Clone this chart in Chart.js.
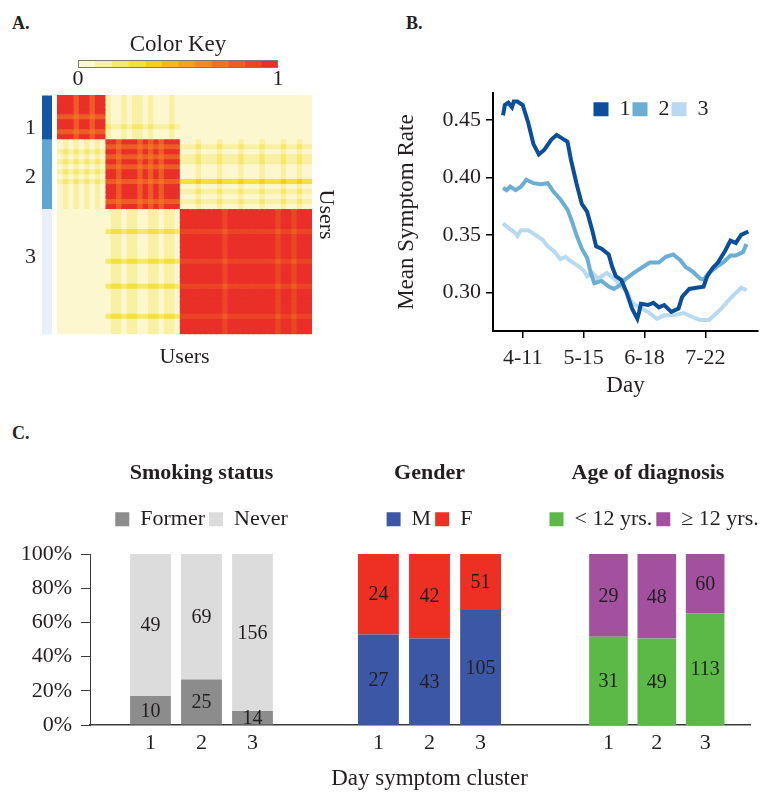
<!DOCTYPE html>
<html>
<head>
<meta charset="utf-8">
<title>Day symptom clusters</title>
<script src="https://cdn.jsdelivr.net/npm/chart.js@4.4.1/dist/chart.umd.min.js"></script>
<style>
  html, body { margin:0; padding:0; background:#fff; }
  #fig { position:relative; width:768px; height:794px; overflow:hidden; background:#fff;
         font-family:"Liberation Serif","Times New Roman",serif; color:#231f20; }
  #fig canvas { position:absolute; }
  .plab { position:absolute; font-weight:bold; font-size:18px; line-height:1; }
</style>
</head>
<body>
<div id="fig">
  <div class="plab" style="left:12px;top:14px;">A.</div>
  <div class="plab" style="left:406px;top:14px;">B.</div>
  <div class="plab" style="left:12px;top:424px;">C.</div>
  <canvas id="keyChart" width="230" height="62" style="left:68px;top:29px;"></canvas>
  <canvas id="sideChart" width="52" height="240" style="left:0px;top:95px;"></canvas>
  <canvas id="heatChart" width="284" height="277" style="left:57px;top:95px;"></canvas>
  <canvas id="lineChart" width="376" height="325" style="left:392px;top:75px;"></canvas>
  <canvas id="smokeChart" width="313" height="338" style="left:0px;top:456px;"></canvas>
  <canvas id="genderChart" width="233" height="338" style="left:313px;top:456px;"></canvas>
  <canvas id="ageChart" width="222" height="338" style="left:546px;top:456px;"></canvas>
</div>
<script>
// ================= DATA =================
// ---- Panel A: consensus heatmap (users binned, clusters 1..3)
const clusterNames = ['1', '2', '3'];
const clusterSizes = [9, 14, 25];          // user bins per cluster (rows = columns)
const clusterLabelRows = [6, 16, 32];      // row where each cluster number is printed
const sideColors = ['#1656a4', '#5fa5d6', '#e9f0f9'];
const keyBreaks = [0, 0.0833, 0.1667, 0.25, 0.3333, 0.4167, 0.5, 0.5833, 0.6667, 0.75, 0.8333, 0.9167, 1];
const heatColors = ['#fcf7cf', '#f8f0a3', '#f5e96b', '#f3e13a', '#f5cf1c', '#f6b81a',
                    '#f4a01f', '#f28a21', '#f07324', '#ed5c25', '#eb4526', '#e92f28'];
// each character = colour-key bin (0..b) of one cell; spaces separate cluster blocks
const heatRows = [
  'bbb9bb9bb 10010110100010 0000000000000000000000000',
  'bbb9bb9bb 10010110100010 0000000000000000000000000',
  'bbb9bb9bb 10010110100010 0000000000000000000000000',
  'bbb9bb9bb 10010110100010 0000000000000000000000000',
  '999899899 10010110100010 0000000000000000000000000',
  'bbb9bb9bb 10010110100010 0000000000000000000000000',
  'bbb9bb9bb 21121221211121 0000000000000000000000000',
  '999899899 10010110100010 0000000000000000000000000',
  'bbb9bb9bb 10010110100010 0000000000000000000000000',
  '010101010 bb9bbb9b9b9bbb 0001000100010001000100100',
  '010101010 99899989898999 1112111211121112111211211',
  '121212121 bb9bbb9b9b9bbb 0001000100010001000100100',
  '010101010 99899989898999 1112111211121112111211211',
  '121212121 bb9bbb9b9b9bbb 1112111211121112111211211',
  '010101010 99899989898999 0001000100010001000100100',
  '121212121 bb9bbb9b9b9bbb 0001000100010001000100100',
  '010101010 bb9bbb9b9b9bbb 0001000100010001000100100',
  '121212121 99899989898999 3334333433343334333433433',
  '010101010 bb9bbb9b9b9bbb 0001000100010001000100100',
  '010101010 bb9bbb9b9b9bbb 1112111211121112111211211',
  '010101010 bb9bbb9b9b9bbb 0001000100010001000100100',
  '010101010 99899989898999 1112111211121112111211211',
  '010101010 bb9bbb9b9b9bbb 0001000100010001000100100',
  '000000000 01101100110110 bbbbbbbbabbbbbbbbbabbabbb',
  '000000000 01101100110110 bbbbbbbbabbbbbbbbbabbabbb',
  '000000000 01101100110110 bbbbbbbbabbbbbbbbbabbabbb',
  '000000000 01101100110110 bbbbbbbbabbbbbbbbbabbabbb',
  '000000000 23323322332332 aaaaaaaa9aaaaaaaaa9aa9aaa',
  '000000000 01101100110110 bbbbbbbbabbbbbbbbbabbabbb',
  '000000000 01101100110110 bbbbbbbbabbbbbbbbbabbabbb',
  '000000000 01101100110110 bbbbbbbbabbbbbbbbbabbabbb',
  '000000000 01101100110110 bbbbbbbbabbbbbbbbbabbabbb',
  '000000000 01101100110110 bbbbbbbbabbbbbbbbbabbabbb',
  '000000000 23323322332332 aaaaaaaa9aaaaaaaaa9aa9aaa',
  '000000000 01101100110110 bbbbbbbbabbbbbbbbbabbabbb',
  '000000000 01101100110110 bbbbbbbbabbbbbbbbbabbabbb',
  '000000000 01101100110110 bbbbbbbbabbbbbbbbbabbabbb',
  '000000000 01101100110110 bbbbbbbbabbbbbbbbbabbabbb',
  '000000000 23323322332332 aaaaaaaa9aaaaaaaaa9aa9aaa',
  '000000000 01101100110110 bbbbbbbbabbbbbbbbbabbabbb',
  '000000000 01101100110110 bbbbbbbbabbbbbbbbbabbabbb',
  '000000000 01101100110110 bbbbbbbbabbbbbbbbbabbabbb',
  '000000000 01101100110110 bbbbbbbbabbbbbbbbbabbabbb',
  '000000000 01101100110110 bbbbbbbbabbbbbbbbbabbabbb',
  '000000000 23323322332332 aaaaaaaa9aaaaaaaaa9aa9aaa',
  '000000000 01101100110110 bbbbbbbbabbbbbbbbbabbabbb',
  '000000000 01101100110110 bbbbbbbbabbbbbbbbbabbabbb',
  '000000000 01101100110110 bbbbbbbbabbbbbbbbbabbabbb'
];

// ---- Panel B: mean symptom rate by day (day of year; 101 = 4-11)
const dayTickValues = [101, 135, 169, 203];
const dayTickLabels = ['4-11', '5-15', '6-18', '7-22'];
const rateTickValues = [0.30, 0.35, 0.40, 0.45];
const seriesNames = ['1', '2', '3'];
const days1 = [90,91,93,95,96,98,101,104,107,110,113,117,120,123,126,128,131,134,137,140,142,145,149,151,153,156,159,162,165,166,167,171,174,177,180,184,188,190,194,198,202,204,207,210,214,217,220,223,227];
const rate1 = [0.454,0.463,0.465,0.461,0.466,0.466,0.463,0.448,0.429,0.420,0.424,0.433,0.437,0.434,0.431,0.415,0.395,0.377,0.370,0.353,0.340,0.338,0.333,0.322,0.314,0.311,0.300,0.286,0.277,0.283,0.290,0.289,0.291,0.287,0.289,0.283,0.286,0.296,0.303,0.304,0.305,0.314,0.321,0.326,0.336,0.345,0.343,0.350,0.353];
const days2 = [90,92,94,97,100,103,107,111,115,118,122,126,128,131,134,137,139,141,145,149,152,156,158,163,167,172,177,181,185,189,192,196,200,202,205,209,213,217,220,224,226];
const rate2 = [0.391,0.389,0.392,0.389,0.392,0.398,0.395,0.394,0.395,0.388,0.381,0.372,0.364,0.350,0.338,0.330,0.317,0.308,0.310,0.305,0.303,0.307,0.311,0.317,0.321,0.326,0.326,0.331,0.333,0.328,0.322,0.318,0.312,0.311,0.317,0.322,0.326,0.332,0.332,0.335,0.342];
const days3 = [90,93,96,98,100,104,108,112,115,119,122,125,127,131,135,137,140,143,148,152,155,159,162,166,171,176,180,185,191,195,200,205,208,212,216,219,223,226];
const rate3 = [0.360,0.356,0.353,0.349,0.354,0.354,0.350,0.346,0.340,0.335,0.329,0.331,0.328,0.324,0.319,0.314,0.317,0.312,0.317,0.312,0.307,0.301,0.291,0.287,0.283,0.277,0.280,0.280,0.282,0.279,0.276,0.276,0.280,0.286,0.293,0.298,0.304,0.302];

// ---- Panel C: counts of users per day-symptom cluster
const clusterIds = [1, 2, 3];
const smokingFormer = [10, 25, 14];
const smokingNever  = [49, 69, 156];
const genderM = [27, 43, 105];
const genderF = [24, 42, 51];
const ageUnder12 = [31, 49, 113];
const age12Plus  = [29, 48, 60];

// ================= STYLE / SETUP =================
const SERIF = '"Liberation Serif", "Times New Roman", serif';
const INK = '#231f20';
Chart.defaults.font.family = SERIF;
Chart.defaults.font.size = 22;
Chart.defaults.color = INK;
Chart.defaults.animation = false;
Chart.defaults.responsive = false;
Chart.defaults.plugins.tooltip.enabled = false;

// legend helper: extra gap below, fixed start x, fixed top, no wrapping
function legendTweak(opts) {
  return {
    id: 'legendTweak',
    beforeLayout(chart) {
      const lg = chart.legend;
      if (lg && !lg.__tw) {
        const fit = lg.fit;
        lg.fit = function () {
          if (opts.minWidth) this.maxWidth = Math.max(this.maxWidth, opts.minWidth);
          fit.call(this);
          if (opts.height != null) this.height = opts.height; else this.height += (opts.gap || 0);
        };
        lg.__tw = true;
      }
    },
    afterLayout(chart) {
      const lg = chart.legend; if (!lg) return;
      const pad = lg.options.labels.padding;
      if (opts.startX != null) {
        lg.left = opts.startX - pad;
        lg.right = opts.startX + lg.lineWidths[0] + 1;
      }
      if (opts.top != null) { lg.top = chart.chartArea.top + opts.top; lg.bottom = lg.top + (opts.drawHeight || lg.height); }
    }
  };
}

// ---------- Panel A : colour key ----------
const keyDatasets = heatColors.map((c, i) => ({
  label: 'bin ' + i, data: [[keyBreaks[i], keyBreaks[i + 1]]], backgroundColor: c,
  borderWidth: 0, grouped: false, barPercentage: 1, categoryPercentage: 1, inflateAmount: 0.5
}));
keyDatasets.push({ label: 'outline', data: [[keyBreaks[0], keyBreaks[keyBreaks.length - 1]]],
  backgroundColor: 'rgba(0,0,0,0)', borderColor: '#7a7a7a', borderWidth: 1, borderSkipped: false,
  grouped: false, barPercentage: 1, categoryPercentage: 1, order: -1, inflateAmount: 0 });
new Chart(document.getElementById('keyChart'), {
  type: 'bar',
  data: { labels: ['Color Key'], datasets: keyDatasets },
  options: {
    indexAxis: 'y',
    layout: { padding: { left: 10, right: 20 } },
    plugins: {
      legend: { display: false },
      title: { display: true, text: 'Color Key', font: { size: 23, weight: 'normal' }, padding: { top: 2, bottom: 1.4 }, color: INK }
    },
    scales: {
      x: { type: 'linear', min: 0, max: 1, ticks: { stepSize: 1, font: { size: 22, lineHeight: 1 }, padding: 0.5, color: INK },
           grid: { display: false, drawTicks: false }, border: { display: false } },
      y: { display: false }
    }
  }
});

// ---------- Panel A : heatmap ----------
const grid = heatRows.map(r => r.replace(/\s+/g, ''));
const nCols = grid[0].length;
const rowLabels = grid.map((_, i) => 'users ' + (i + 1));
const rowCluster = [];
clusterSizes.forEach((n, c) => { for (let k = 0; k < n; k++) rowCluster.push(c); });

new Chart(document.getElementById('sideChart'), {
  type: 'bar',
  data: { labels: rowLabels, datasets: [{ label: 'cluster', data: grid.map(() => 1),
    backgroundColor: rowCluster.map(c => sideColors[c]), borderWidth: 0, barPercentage: 1, categoryPercentage: 1,
    inflateAmount: 1 }] },
  options: {
    indexAxis: 'y',
    layout: { padding: { left: 25 } },
    plugins: { legend: { display: false } },
    scales: {
      x: { display: false, min: 0, max: 1 },
      y: { position: 'left', afterFit(s) { s.width = 17; },
           grid: { display: false, drawTicks: false }, border: { display: false },
           ticks: { autoSkip: false, padding: 0, crossAlign: 'far', font: { size: 22, lineHeight: 0.05 }, color: INK,
                    callback: (v, i) => { const k = clusterLabelRows.indexOf(i); return k >= 0 ? clusterNames[k] : ''; } } }
    }
  }
});

const heatDatasets = [];
for (let j = 0; j < nCols; j++) {
  heatDatasets.push({ label: 'users ' + (j + 1), data: grid.map(() => 1),
    backgroundColor: grid.map(r => heatColors[parseInt(r[j], 16)]),
    borderWidth: 0, barPercentage: 1, categoryPercentage: 1, inflateAmount: 0.6 });
}
new Chart(document.getElementById('heatChart'), {
  type: 'bar',
  data: { labels: rowLabels, datasets: heatDatasets },
  options: {
    indexAxis: 'y',
    plugins: { legend: { display: false } },
    scales: {
      x: { stacked: true, min: 0, max: nCols, ticks: { display: false }, grid: { display: false, drawTicks: false },
           border: { display: false },
           title: { display: true, text: 'Users', font: { size: 22 }, padding: { top: 9.4, bottom: 2 }, color: INK } },
      y: { stacked: true, position: 'right', ticks: { display: false }, grid: { display: false, drawTicks: false },
           border: { display: false },
           title: { display: true, text: 'Users', font: { size: 22 }, padding: { top: 1.8, bottom: 0.8 }, color: INK } }
    }
  }
});

// ---------- Panel B : line chart ----------
const lineColors = ['#0b4f9c', '#6aaed6', '#b7d9f1'];
const lineSeries = [[days1, rate1], [days2, rate2], [days3, rate3]];
new Chart(document.getElementById('lineChart'), {
  type: 'line',
  data: { datasets: lineSeries.map(([d, r], k) => ({
    label: seriesNames[k], data: d.map((x, i) => ({ x: x, y: r[i] })),
    borderColor: lineColors[k], backgroundColor: lineColors[k], borderWidth: 4,
    pointRadius: 0, tension: 0, fill: false })) },
  options: {
    layout: { padding: { top: 10, right: 10 } },
    plugins: {
      legend: { position: 'top', fullSize: false, align: 'center',
        labels: { boxWidth: 15, boxHeight: 14, padding: 2, font: { size: 22 }, color: INK,
          generateLabels(chart) {
            return Chart.defaults.plugins.legend.labels.generateLabels(chart)
              .map(it => Object.assign(it, { lineWidth: 0, fillStyle: it.strokeStyle }));
          } } }
    },
    scales: {
      x: { type: 'linear', min: 84.4, max: 232.4,
           afterBuildTicks(s) { s.ticks = dayTickValues.map(v => ({ value: v })); },
           afterFit(s) { s.height = 69; },
           ticks: { callback: (v, i) => dayTickLabels[i], font: { size: 22 }, padding: 6.8, maxRotation: 0, color: INK },
           grid: { drawOnChartArea: false, tickLength: 7, color: '#000', lineWidth: 1.5 },
           border: { color: '#000', width: 2 },
           title: { display: true, text: 'Day', font: { size: 23 }, padding: { top: 0, bottom: 0.2 }, color: INK } },
      y: { min: 0.2664, max: 0.4733,
           afterBuildTicks(s) { s.ticks = rateTickValues.map(v => ({ value: v })); },
           afterFit(s) { s.width = 101; },
           ticks: { callback: v => Number(v).toFixed(2), font: { size: 22 }, padding: 5, color: INK },
           grid: { drawOnChartArea: false, tickLength: 7, color: '#000', lineWidth: 1.5 },
           border: { color: '#000', width: 2 },
           title: { display: true, text: 'Mean Symptom Rate', font: { size: 23 }, padding: { top: 1.2, bottom: 0 }, color: INK } }
    }
  },
  plugins: [legendTweak({ height: 0, startX: 201, top: 3, drawHeight: 34 })]
});

// ---------- Panel C : 100% stacked bars ----------
const barCountLabels = { id: 'barCountLabels', afterDatasetsDraw(chart) {
  const ctx = chart.ctx; ctx.save();
  ctx.font = '20px ' + SERIF; ctx.fillStyle = INK; ctx.textAlign = 'center'; ctx.textBaseline = 'middle';
  chart.data.datasets.forEach((ds, di) => {
    const meta = chart.getDatasetMeta(di);
    meta.data.forEach((el, i) => {
      const p = el.getProps(['x', 'y', 'base'], true);
      ctx.fillText(String(ds.counts[i]), p.x, (p.y + p.base) / 2 + 1);
    });
  });
  ctx.restore();
} };
function shares(a, b) {
  return [a.map((v, i) => 100 * v / (v + b[i])), b.map((v, i) => 100 * v / (a[i] + v))];
}
function makeGroupChart(id, cfg) {
  const [pa, pb] = shares(cfg.countsA, cfg.countsB);
  const yScale = { display: !!cfg.showY, stacked: true, min: 0, max: 100,
    ticks: { stepSize: 20, callback: v => v + '%', font: { size: 22 }, padding: 9, color: INK },
    grid: { drawOnChartArea: false, tickLength: 9, color: '#3a3a3a', lineWidth: 1 },
    border: { color: '#3a3a3a', width: 1 } };
  if (cfg.showY) yScale.afterFit = s => { s.width = 90; };
  return new Chart(document.getElementById(id), {
    type: 'bar',
    data: { datasets: [
      { label: cfg.labels[0], data: clusterIds.map((c, i) => ({ x: c, y: pa[i] })), counts: cfg.countsA, backgroundColor: cfg.colors[0] },
      { label: cfg.labels[1], data: clusterIds.map((c, i) => ({ x: c, y: pb[i] })), counts: cfg.countsB, backgroundColor: cfg.colors[1] }
    ] },
    options: {
      layout: { padding: { right: cfg.padRight || 0 } },
      datasets: { bar: { barPercentage: 0.8, categoryPercentage: 1, borderWidth: 0 } },
      plugins: {
        title: { display: true, text: cfg.title, fullSize: false, font: { size: 22, weight: 'bold' },
                 padding: { top: 4, bottom: 17.9 }, color: INK },
        legend: { display: true, fullSize: false,
                  labels: { boxWidth: 14, boxHeight: 14, padding: 4, font: { size: 22 }, color: INK } }
      },
      scales: {
        x: { type: 'linear', offset: false, stacked: true, min: cfg.xmin, max: cfg.xmax,
             afterBuildTicks(s) { s.ticks = clusterIds.map(v => ({ value: v })); },
             afterFit(s) { s.height = 69; },
             ticks: { callback: (v, i) => clusterNames[i], font: { size: 22 }, padding: 5.4, color: INK },
             grid: { display: false, drawTicks: false },
             border: { display: true, color: '#3a3a3a', width: 1.5 },
             title: { display: !!cfg.xTitle, text: cfg.xTitle || '', font: { size: 23 }, padding: { top: 0, bottom: 1.4 }, color: INK } },
        y: yScale
      }
    },
    plugins: [barCountLabels, legendTweak(cfg.legend)]
  });
}
makeGroupChart('smokeChart', { title: 'Smoking status', labels: ['Former', 'Never'], colors: ['#8c8c8c', '#dcdcdc'],
  countsA: smokingFormer, countsB: smokingNever, xmin: -0.186, xmax: 4.186, showY: true, legend: { gap: 13.7 } });
makeGroupChart('genderChart', { title: 'Gender', labels: ['M', 'F'], colors: ['#3c57a5', '#ee3024'],
  countsA: genderM, countsB: genderF, xmin: -0.28, xmax: 4.28, xTitle: 'Day symptom cluster', legend: { gap: 13.7 } });
makeGroupChart('ageChart', { title: 'Age of diagnosis', labels: ['< 12 yrs.', '\u2265 12 yrs.'], colors: ['#5cb947', '#a3519f'],
  countsA: ageUnder12, countsB: age12Plus, xmin: -0.292, xmax: 3.928, padRight: 18,
  legend: { gap: 13.7, minWidth: 260, startX: 3 } });
</script>
</body>
</html>
